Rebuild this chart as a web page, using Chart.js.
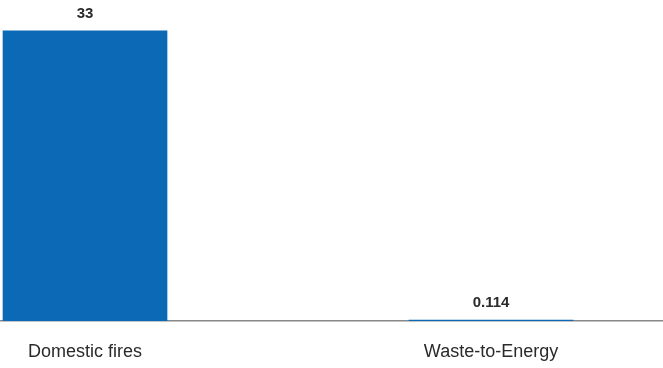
<!DOCTYPE html>
<html>
<head>
<meta charset="utf-8">
<script src="https://cdn.jsdelivr.net/npm/chart.js@4"></script>
<style>
  html, body { margin: 0; padding: 0; background: #fff; }
  #wrap { width: 663px; height: 368px; }
</style>
</head>
<body>
<div id="wrap"><canvas id="myChart"></canvas></div>
<script>
const categories = ['Domestic fires', 'Waste-to-Energy'];
const values = [33, 0.114];
const valueLabels = ['33', '0.114'];

// value printed above each bar
const barValues = {
  id: 'barValues',
  afterDatasetsDraw(chart) {
    const ctx = chart.ctx;
    const meta = chart.getDatasetMeta(0);
    ctx.save();
    ctx.font = 'bold 15px "Liberation Sans", Arial, sans-serif';
    ctx.fillStyle = '#2a2a2a';
    ctx.textAlign = 'center';
    ctx.textBaseline = 'alphabetic';
    meta.data.forEach((bar, i) => {
      ctx.fillText(valueLabels[i], bar.x, bar.y - 13);
    });
    ctx.restore();
  }
};

const ctx = document.getElementById('myChart').getContext('2d');
const myChart = new Chart(ctx, {
  type: 'bar',
  data: {
    datasets: [{
      data: values.map((v, i) => ({ x: i, y: v })),
      backgroundColor: '#0b69b5',
      borderWidth: 0,
      barThickness: 164
    }]
  },
  options: {
    responsive: true,
    maintainAspectRatio: false,
    animation: false,
    layout: { padding: 0 },
    plugins: { legend: { display: false }, tooltip: { enabled: false } },
    scales: {
      x: {
        type: 'linear',
        offset: false,
        min: -0.2094,
        max: 1.4236,
        afterBuildTicks: (axis) => {
          axis.ticks = categories.map((c, i) => ({ value: i }));
        },
        // keep the label band a fixed height under the baseline
        afterFit: (axis) => { axis.height = 47; },
        ticks: {
          autoSkip: false,
          maxRotation: 0,
          padding: 20,
          color: '#2a2a2a',
          font: { family: '"Liberation Sans", Arial, sans-serif', size: 18 },
          callback: (v) => categories[v]
        },
        grid: { display: false, drawTicks: false },
        border: { display: true, color: '#888', width: 1.5 }
      },
      y: {
        display: false,
        min: 0,
        max: 36.5
      }
    }
  },
  plugins: [barValues]
});
</script>
</body>
</html>
